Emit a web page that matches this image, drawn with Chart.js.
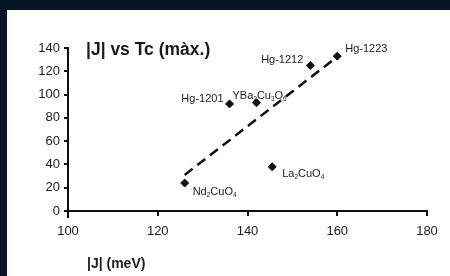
<!DOCTYPE html>
<html>
<head>
<meta charset="utf-8">
<script src="https://cdn.jsdelivr.net/npm/chart.js@4"></script>
<style>
  html, body { margin: 0; padding: 0; background: #071626; }
  #wrap { width: 450px; height: 276px; }
</style>
</head>
<body>
<div id="wrap"><canvas id="jtcChart" width="450" height="276"></canvas></div>
<script>
// data
const compounds = ['Nd_2CuO_4', 'Hg-1201', 'YBa_2Cu_3O_6', 'La_2CuO_4', 'Hg-1212', 'Hg-1223'];
const jValues = [126, 136, 142, 145.5, 154, 160];   // |J| (meV)
const tcValues = [24, 92, 93, 38, 125, 133];        // Tc max
const trendJ = [126, 159.5];
const trendTc = [31, 131];
const xTicks = [100, 120, 140, 160, 180];
const yTicks = [0, 20, 40, 60, 80, 100, 120, 140];

// label placement next to each marker: [dx, dy, align]
const labelOffsets = [[8, 9, 'left'], [-6, -5, 'right'], [-24, -7, 'left'],
                      [10, 7, 'left'], [-7, -5, 'right'], [8, -7, 'left']];

const FONT = "'Liberation Sans', Arial, sans-serif";

// split 'Nd_2CuO_4' into pieces, '_x' = subscript char
function parts(str) {
  const out = [];
  for (let i = 0; i < str.length; i++) {
    if (str[i] === '_') { out.push([str[i + 1], true]); i++; }
    else out.push([str[i], false]);
  }
  return out;
}

const framePlugin = {
  id: 'frame',
  beforeDraw(chart) {
    const c = chart.ctx;
    c.save();
    c.fillStyle = '#071626';
    c.fillRect(0, 0, chart.width, chart.height);
    c.fillStyle = '#ffffff';
    c.fillRect(7, 10, chart.width - 7, chart.height - 10);
    c.restore();
  },
  afterDraw(chart) {
    const c = chart.ctx;
    const xs = chart.scales.x, ys = chart.scales.y;
    c.save();
    // y axis runs a little below the x axis
    c.strokeStyle = '#111';
    c.lineWidth = 2;
    c.beginPath();
    c.moveTo(xs.left, ys.bottom);
    c.lineTo(xs.left, ys.bottom + 7);
    c.stroke();

    c.fillStyle = '#1a1a1a';
    c.textBaseline = 'middle';
    c.font = 'bold 17.5px ' + FONT;
    c.textAlign = 'left';
    c.fillText('|J| vs Tc (màx.)', 86, 50);
    c.font = 'bold 14px ' + FONT;
    c.fillText('|J| (meV)', 87, 264);

    // point labels
    compounds.forEach((name, i) => {
      const px = xs.getPixelForValue(jValues[i]);
      const py = ys.getPixelForValue(tcValues[i]);
      const [dx, dy, align] = labelOffsets[i];
      const segs = parts(name);
      let w = 0;
      segs.forEach(([t, sub]) => {
        c.font = (sub ? '6.5px ' : '11px ') + FONT;
        w += c.measureText(t).width;
      });
      let x = align === 'right' ? px + dx - w : px + dx;
      const y = py + dy;
      segs.forEach(([t, sub]) => {
        c.font = (sub ? '6.5px ' : '11px ') + FONT;
        c.fillText(t, x, sub ? y + 3 : y);
        x += c.measureText(t).width;
      });
    });
    c.restore();
  }
};

new Chart(document.getElementById('jtcChart'), {
  type: 'scatter',
  data: {
    datasets: [{
      label: 'Tc',
      data: jValues.map((j, i) => ({ x: j, y: tcValues[i] })),
      pointStyle: 'rectRot',
      pointRadius: 4,
      backgroundColor: '#111',
      borderColor: '#111',
      borderWidth: 1
    }, {
      label: 'trend',
      type: 'line',
      data: trendJ.map((j, i) => ({ x: j, y: trendTc[i] })),
      borderColor: '#111',
      borderWidth: 2.5,
      borderDash: [10, 6],
      pointRadius: 0,
      fill: false
    }]
  },
  options: {
    responsive: false,
    animation: false,
    layout: { padding: { top: 48, right: 23, left: 0, bottom: 0 } },
    plugins: {
      legend: { display: false },
      tooltip: { enabled: false }
    },
    scales: {
      x: {
        type: 'linear',
        min: 100, max: 180,
        afterBuildTicks: s => { s.ticks = xTicks.map(v => ({ value: v })); },
        afterFit: s => { s.height = 65; },
        border: { display: true, color: '#111', width: 2 },
        grid: { drawOnChartArea: false, drawTicks: true, tickLength: 5, color: '#111', lineWidth: 2 },
        ticks: { color: '#1a1a1a', font: { family: FONT, size: 13 }, padding: 8, maxRotation: 0 }
      },
      y: {
        min: 0, max: 140,
        afterBuildTicks: s => { s.ticks = yTicks.map(v => ({ value: v })); },
        afterFit: s => { s.width = 68; },
        border: { display: true, color: '#111', width: 2 },
        grid: { drawOnChartArea: false, drawTicks: true, tickLength: 4, color: '#111', lineWidth: 2 },
        ticks: { color: '#1a1a1a', font: { family: FONT, size: 13 }, padding: 4 }
      }
    }
  },
  plugins: [framePlugin]
});
</script>
</body>
</html>
